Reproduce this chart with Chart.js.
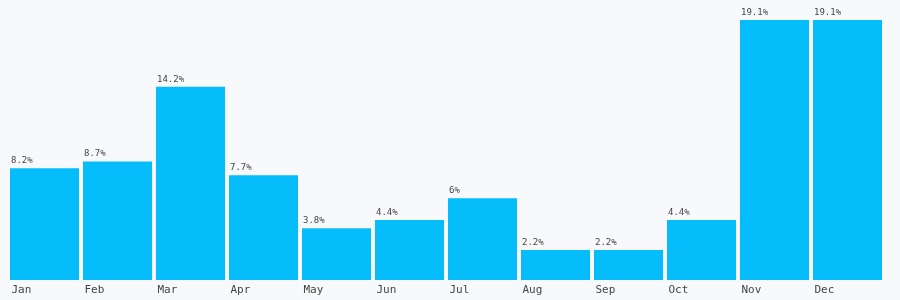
<!DOCTYPE html>
<html>
<head>
<meta charset="utf-8">
<script src="https://cdn.jsdelivr.net/npm/chart.js@4/dist/chart.umd.min.js"></script>
<style>
  html, body { margin: 0; padding: 0; background: #f8f9fb; }
  #wrap { width: 900px; height: 300px; }
</style>
</head>
<body>
<div id="wrap"><canvas id="c"></canvas></div>
<script>
const months = ['Jan', 'Feb', 'Mar', 'Apr', 'May', 'Jun', 'Jul', 'Aug', 'Sep', 'Oct', 'Nov', 'Dec']
const shares = [8.2, 8.7, 14.2, 7.7, 3.8, 4.4, 6, 2.2, 2.2, 4.4, 19.1, 19.1]

const MONO = '"DejaVu Sans Mono", "Liberation Mono", monospace'

// value labels drawn left-aligned above each bar
const valueLabels = {
  id: 'valueLabels',
  afterDatasetsDraw(chart) {
    const ctx = chart.ctx
    const meta = chart.getDatasetMeta(0)
    ctx.save()
    ctx.font = '9px ' + MONO
    ctx.fillStyle = '#444'
    ctx.textAlign = 'left'
    ctx.textBaseline = 'bottom'
    meta.data.forEach((bar, i) => {
      ctx.fillText(shares[i] + '%', bar.x - bar.width / 2 + 1, bar.y - 3)
    })
    ctx.restore()
  }
}

new Chart(document.getElementById('c'), {
  type: 'bar',
  data: {
    labels: months,
    datasets: [{
      data: shares,
      backgroundColor: '#05bdfb',
      borderWidth: 0,
      barPercentage: 1,
      categoryPercentage: 0.945
    }]
  },
  options: {
    responsive: true,
    maintainAspectRatio: false,
    animation: false,
    layout: { padding: { left: 8, right: 16, top: 20, bottom: 0 } },
    plugins: { legend: { display: false }, tooltip: { enabled: false } },
    scales: {
      x: {
        grid: { display: false, drawTicks: false },
        border: { display: false },
        ticks: {
          align: 'start',
          labelOffset: -33,
          padding: 7,
          color: '#444',
          font: { family: MONO, size: 11, lineHeight: 0.55 }
        }
      },
      y: {
        display: false,
        min: 0,
        max: 19.1
      }
    }
  },
  plugins: [valueLabels]
})
</script>
</body>
</html>
